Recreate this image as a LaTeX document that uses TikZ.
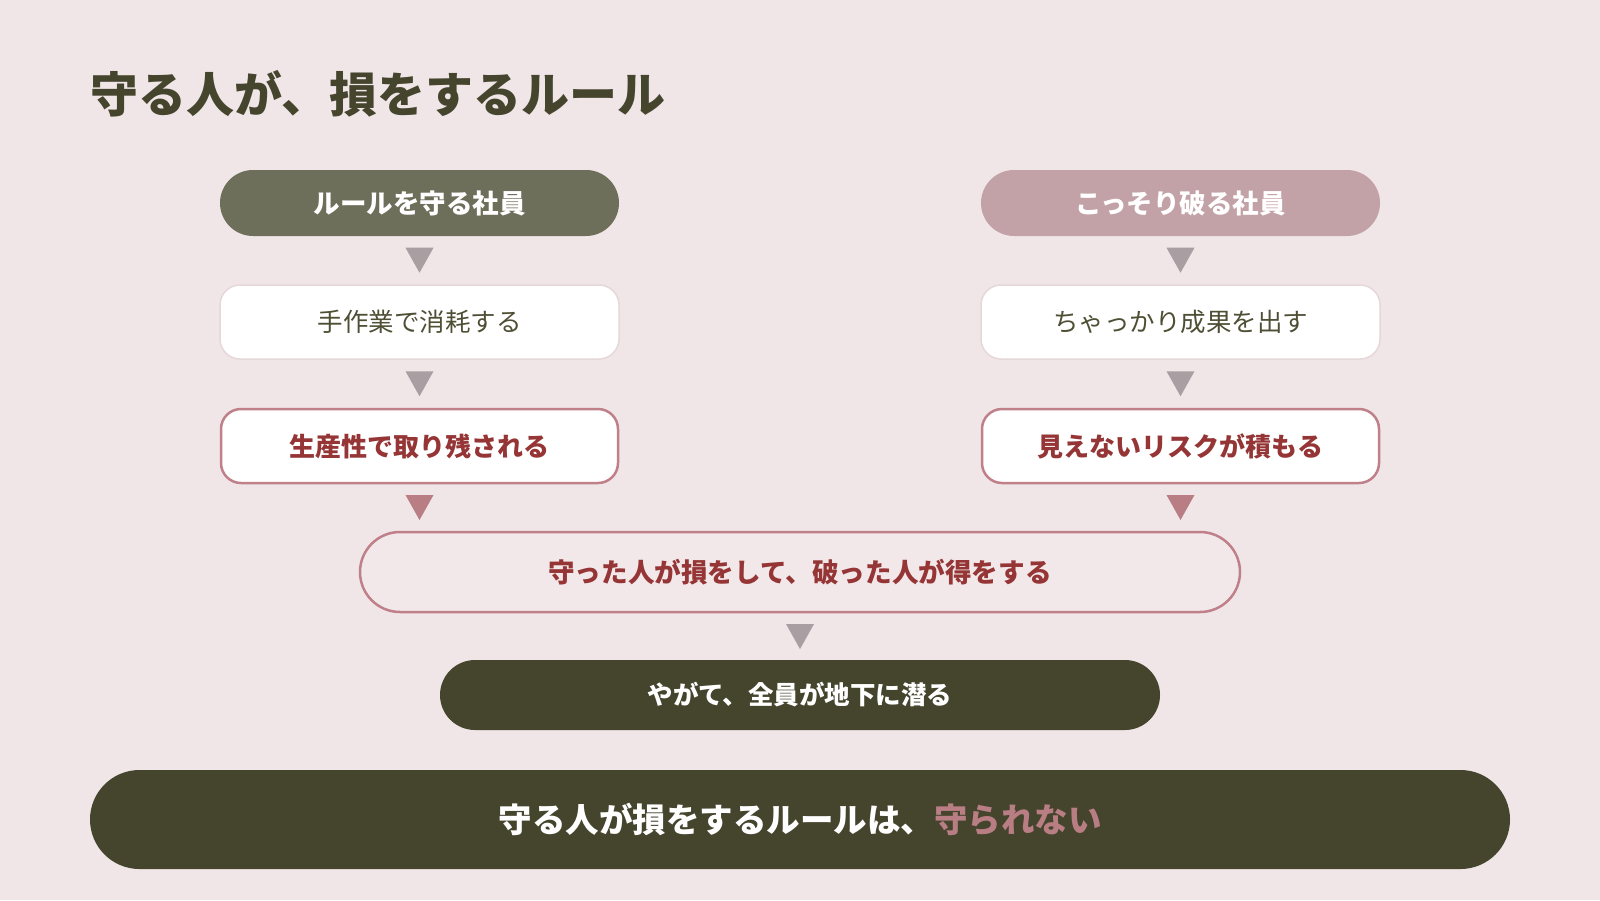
\documentclass[tikz,border=0pt]{standalone}
\usepackage{fontspec}
\setmainfont{Noto Sans CJK JP}
\usetikzlibrary{calc}
\definecolor{bgc}{HTML}{F0E6E8}
\definecolor{olivehead}{HTML}{6E6F5A}
\definecolor{rosehead}{HTML}{C2A1A7}
\definecolor{arrgrey}{HTML}{A99EA2}
\definecolor{arrpink}{HTML}{B97D84}
\definecolor{lightborder}{HTML}{E6D8D8}
\definecolor{roseborder}{HTML}{C0808A}
\definecolor{redtext}{HTML}{953535}
\definecolor{pillfill}{HTML}{F2E8EA}
\definecolor{darkolive}{HTML}{45452E}
\definecolor{bodytext}{HTML}{4F4F35}
\tikzset{
  headbox/.style={rectangle, rounded corners=33pt, minimum width=399pt, minimum height=66pt, inner sep=0pt, text=white, font=\bfseries\fontsize{26.5}{30}\selectfont},
  plainbox/.style={rectangle, rounded corners=20pt, minimum width=399pt, minimum height=74pt, inner sep=0pt, fill=white, draw=lightborder, line width=1.5pt, text=bodytext, font=\fontsize{25.5}{30}\selectfont},
  warnbox/.style={rectangle, rounded corners=20pt, minimum width=397pt, minimum height=74pt, inner sep=0pt, fill=white, draw=roseborder, line width=2.5pt, text=redtext, font=\bfseries\fontsize{26}{30}\selectfont},
}
\newcommand{\downarrowtri}[2]{\fill[#2] (#1) ++(-14,-12.5) -- ++(28,0) -- ++(-14,25) -- cycle;}
\begin{document}
\begin{tikzpicture}[x=1pt,y=-1pt]
\fill[bgc] (0,0) rectangle (1600,900);
\useasboundingbox (0,0) rectangle (1600,900);

\node[anchor=west, text=darkolive, font=\bfseries\fontsize{48}{56}\selectfont, inner sep=0pt] (title) at (90,94) {守る人が、損をするルール};

% left column
\node[headbox, fill=olivehead] (lh) at (419.5,203) {ルールを守る社員};
\node[plainbox] (l2) at (419.5,322) {手作業で消耗する};
\node[warnbox] (l3) at (419.5,446) {生産性で取り残される};

% right column
\node[headbox, fill=rosehead] (rh) at (1180.5,203) {こっそり破る社員};
\node[plainbox] (r2) at (1180.5,322) {ちゃっかり成果を出す};
\node[warnbox] (r3) at (1180.5,446) {見えないリスクが積もる};

% merge
\node[rectangle, rounded corners=40pt, minimum width=880pt, minimum height=80pt, inner sep=0pt, fill=pillfill, draw=roseborder, line width=2.5pt, text=redtext, font=\bfseries\fontsize{26.6}{30}\selectfont] (m) at (800,572) {守った人が損をして、破った人が得をする};
\node[rectangle, rounded corners=35pt, minimum width=720pt, minimum height=70pt, inner sep=0pt, fill=darkolive, text=white, font=\bfseries\fontsize{25.5}{30}\selectfont] (e) at (800,695) {やがて、全員が地下に潜る};

\node[rectangle, rounded corners=49.5pt, minimum width=1420pt, minimum height=99pt, inner sep=0pt, fill=darkolive, font=\bfseries\fontsize{33.5}{40}\selectfont] (bottom) at (800,819.5) {\textcolor{white}{守る人が損をするルールは、}\textcolor{arrpink}{守られない}};

% arrows
\downarrowtri{$(lh.south)!0.5!(l2.north)$}{arrgrey}
\downarrowtri{$(l2.south)!0.5!(l3.north)$}{arrgrey}
\downarrowtri{$(l3.south)!0.5!(l3.south |- m.north)$}{arrpink}
\downarrowtri{$(rh.south)!0.5!(r2.north)$}{arrgrey}
\downarrowtri{$(r2.south)!0.5!(r3.north)$}{arrgrey}
\downarrowtri{$(r3.south)!0.5!(r3.south |- m.north)$}{arrpink}
\downarrowtri{$(m.south)!0.5!(e.north)$}{arrgrey}
\end{tikzpicture}
\end{document}
